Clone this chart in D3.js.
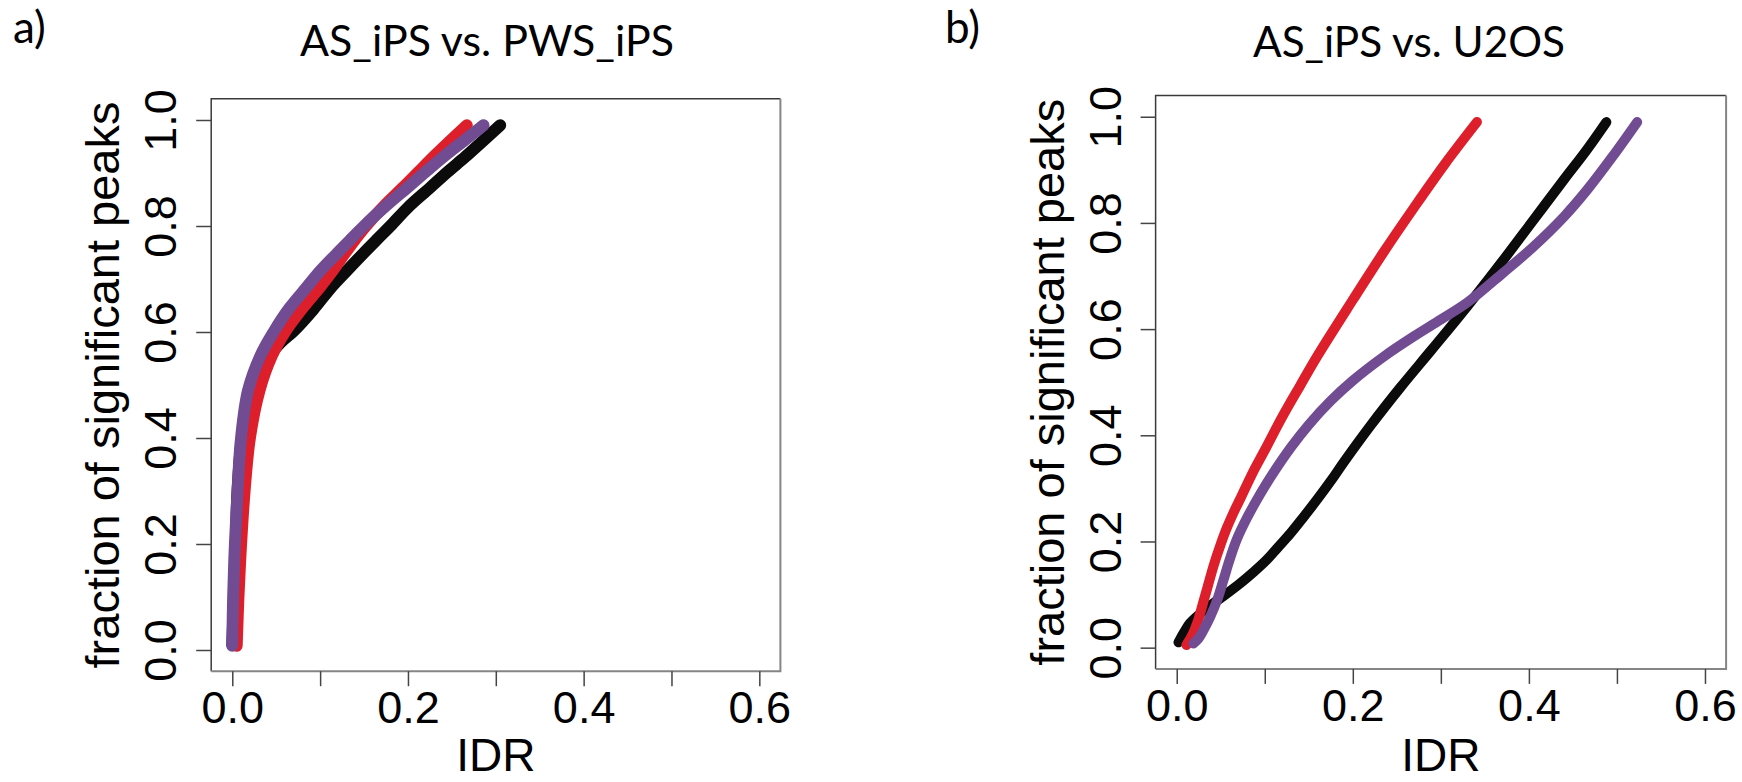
<!DOCTYPE html>
<html>
<head>
<meta charset="utf-8">
<script src="https://cdnjs.cloudflare.com/ajax/libs/d3/7.8.5/d3.min.js"></script>
<style>
  html, body { margin: 0; background: #fff; }
  svg { display: block; }
</style>
</head>
<body>
<svg id="chart" width="1742" height="782"></svg>
<script>
'use strict';

// values, pairs of [IDR, fraction of significant peaks]
const aBlack = [[0.000, 0.010], [0.002, 0.100], [0.004, 0.200], [0.006, 0.300], [0.011, 0.400],
    [0.022, 0.490], [0.040, 0.550], [0.055, 0.580], [0.070, 0.602], [0.092, 0.642], [0.113, 0.685],
    [0.130, 0.715], [0.149, 0.748], [0.165, 0.775], [0.180, 0.800], [0.200, 0.835], [0.225, 0.872],
    [0.245, 0.902], [0.265, 0.930], [0.285, 0.960], [0.305, 0.990]];
const aRed = [[0.005, 0.008], [0.007, 0.100], [0.010, 0.200], [0.014, 0.300], [0.020, 0.400],
    [0.031, 0.490], [0.045, 0.555], [0.060, 0.600], [0.080, 0.645], [0.100, 0.685], [0.114, 0.715],
    [0.128, 0.748], [0.140, 0.775], [0.152, 0.800], [0.173, 0.838], [0.194, 0.872], [0.212, 0.902],
    [0.230, 0.932], [0.249, 0.962], [0.267, 0.990]];
const aPurple = [[0.000, 0.008], [0.001, 0.100], [0.003, 0.200], [0.006, 0.300], [0.010, 0.400],
    [0.018, 0.490], [0.032, 0.555], [0.047, 0.600], [0.065, 0.645], [0.085, 0.685], [0.100, 0.715],
    [0.119, 0.748], [0.135, 0.775], [0.150, 0.800], [0.175, 0.838], [0.199, 0.872], [0.220, 0.902],
    [0.240, 0.930], [0.263, 0.960], [0.286, 0.990]];

const bBlack = [[0.002, 0.010], [0.008, 0.028], [0.015, 0.046], [0.028, 0.066], [0.042, 0.084],
    [0.057, 0.102], [0.072, 0.121], [0.087, 0.142], [0.102, 0.165], [0.115, 0.189], [0.129, 0.215],
    [0.144, 0.246], [0.159, 0.278], [0.175, 0.314], [0.190, 0.350], [0.220, 0.418], [0.254, 0.490],
    [0.290, 0.562], [0.330, 0.643], [0.370, 0.728], [0.405, 0.805], [0.440, 0.882], [0.465, 0.936],
    [0.488, 0.990]];
const bRed = [[0.011, 0.005], [0.018, 0.025], [0.024, 0.050], [0.030, 0.085], [0.036, 0.120],
    [0.042, 0.155], [0.050, 0.195], [0.057, 0.226], [0.065, 0.256], [0.072, 0.280], [0.087, 0.332],
    [0.100, 0.372], [0.120, 0.435], [0.140, 0.493], [0.160, 0.550], [0.200, 0.655], [0.235, 0.745],
    [0.270, 0.830], [0.305, 0.912], [0.341, 0.990]];
const bPurple = [[0.019, 0.008], [0.025, 0.018], [0.031, 0.035], [0.038, 0.058], [0.046, 0.090],
    [0.053, 0.127], [0.060, 0.165], [0.068, 0.203], [0.080, 0.245], [0.095, 0.290], [0.110, 0.330],
    [0.130, 0.378], [0.150, 0.420], [0.175, 0.465], [0.200, 0.503], [0.235, 0.548], [0.270, 0.587],
    [0.300, 0.618], [0.330, 0.650], [0.370, 0.705], [0.405, 0.755], [0.440, 0.812], [0.466, 0.862],
    [0.495, 0.925], [0.523, 0.990]];

const xTicks = [0, 0.1, 0.2, 0.3, 0.4, 0.5, 0.6];
const xTickLabels = ['0.0', '', '0.2', '', '0.4', '', '0.6'];
const yTicks = [0, 0.2, 0.4, 0.6, 0.8, 1.0];
const yTickLabels = ['0.0', '0.2', '0.4', '0.6', '0.8', '1.0'];
const titles = ['AS_iPS vs. PWS_iPS', 'AS_iPS vs. U2OS'];
const tags = ['a)', 'b)'];
const xTitle = 'IDR';
const yTitle = 'fraction of significant peaks';

const COLORS = { black: '#0b0b0b', red: '#dc1f2a', purple: '#724c92' };
const AXIS_FONT = '"Liberation Sans", Arial, Helvetica, sans-serif';
const TITLE_FONT = 'Lato, "Open Sans", sans-serif';

// R pads the data range by 4% on each side
const X_DOMAIN = [-0.024, 0.624];
const Y_DOMAIN = [-0.04, 1.04];

const PANELS = [
    {
        left: 211.2, right: 780.4, top: 98.8, bottom: 671.2, lineWidth: 12,
        title: { x: 487, y: 56, width: 374 }, tag: { x: 13, y: 43 },
        series: [[aBlack, COLORS.black], [aRed, COLORS.red], [aPurple, COLORS.purple]]
    },
    {
        left: 1155.6, right: 1726.1, top: 95.5, bottom: 668.9, lineWidth: 10,
        title: { x: 1409, y: 57, width: 312 }, tag: { x: 945, y: 43 },
        series: [[bBlack, COLORS.black], [bRed, COLORS.red], [bPurple, COLORS.purple]]
    }
];

const svg = d3.select('#chart');

PANELS.forEach((p, i) => {
    let x = d3.scaleLinear().domain(X_DOMAIN).range([p.left, p.right]);
    let y = d3.scaleLinear().domain(Y_DOMAIN).range([p.bottom, p.top]);
    let g = svg.append('g');

    let line = d3.line()
        .x((d) => x(d[0]))
        .y((d) => y(d[1]))
        .curve(d3.curveCatmullRom.alpha(0.5));

    g.selectAll('path.series')
        .data(p.series)
        .enter()
        .append('path')
        .attr('class', 'series')
        .attr('d', (d) => line(d[0]))
        .attr('fill', 'none')
        .attr('stroke', (d) => d[1])
        .attr('stroke-width', p.lineWidth)
        .attr('stroke-linecap', 'round')
        .attr('stroke-linejoin', 'round');

    // box: scanned figure has darker top/left edges
    g.append('path')
        .attr('d', `M${p.left},${p.bottom} V${p.top} H${p.right}`)
        .attr('fill', 'none').attr('stroke', '#3a3a3a').attr('stroke-width', 1.5);
    g.append('path')
        .attr('d', `M${p.left},${p.bottom} H${p.right} V${p.top}`)
        .attr('fill', 'none').attr('stroke', '#858585').attr('stroke-width', 2);

    let xAxis = g.append('g')
        .attr('transform', `translate(0,${p.bottom})`)
        .call(d3.axisBottom(x).tickValues(xTicks).tickSize(15)
            .tickFormat((d, k) => xTickLabels[k]));
    xAxis.select('.domain').remove();
    xAxis.selectAll('line').attr('stroke', '#444').attr('stroke-width', 1.5);
    xAxis.selectAll('text')
        .attr('y', 52).attr('dy', null)
        .attr('fill', '#000')
        .style('font-family', AXIS_FONT).style('font-size', '45px');

    let yAxis = g.append('g')
        .attr('transform', `translate(${p.left},0)`)
        .call(d3.axisLeft(y).tickValues(yTicks).tickSize(15)
            .tickFormat((d, k) => yTickLabels[k]));
    yAxis.select('.domain').remove();
    yAxis.selectAll('line').attr('stroke', '#444').attr('stroke-width', 1.5);
    yAxis.selectAll('text')
        .attr('x', 0).attr('y', -35).attr('dy', null)
        .attr('transform', 'rotate(-90)')
        .attr('text-anchor', 'middle')
        .attr('fill', '#000')
        .style('font-family', AXIS_FONT).style('font-size', '45px');

    g.append('text')
        .attr('x', (p.left + p.right) / 2).attr('y', 771)
        .attr('text-anchor', 'middle')
        .style('font-family', AXIS_FONT).style('font-size', '46px')
        .text(xTitle);

    g.append('text')
        .attr('transform', `translate(${p.left - 92},${(p.top + p.bottom) / 2}) rotate(-90)`)
        .attr('text-anchor', 'middle')
        .style('font-family', AXIS_FONT).style('font-size', '47px')
        .text(yTitle);

    g.append('text')
        .attr('x', p.title.x - p.title.width / 2).attr('y', p.title.y)
        .attr('textLength', p.title.width)
        .attr('lengthAdjust', 'spacingAndGlyphs')
        .style('font-family', TITLE_FONT).style('font-size', '42px')
        .text(titles[i]);

    g.append('text')
        .attr('x', p.tag.x).attr('y', p.tag.y)
        .style('font-family', TITLE_FONT).style('font-size', '44px')
        .text(tags[i]);
});
</script>
</body>
</html>
